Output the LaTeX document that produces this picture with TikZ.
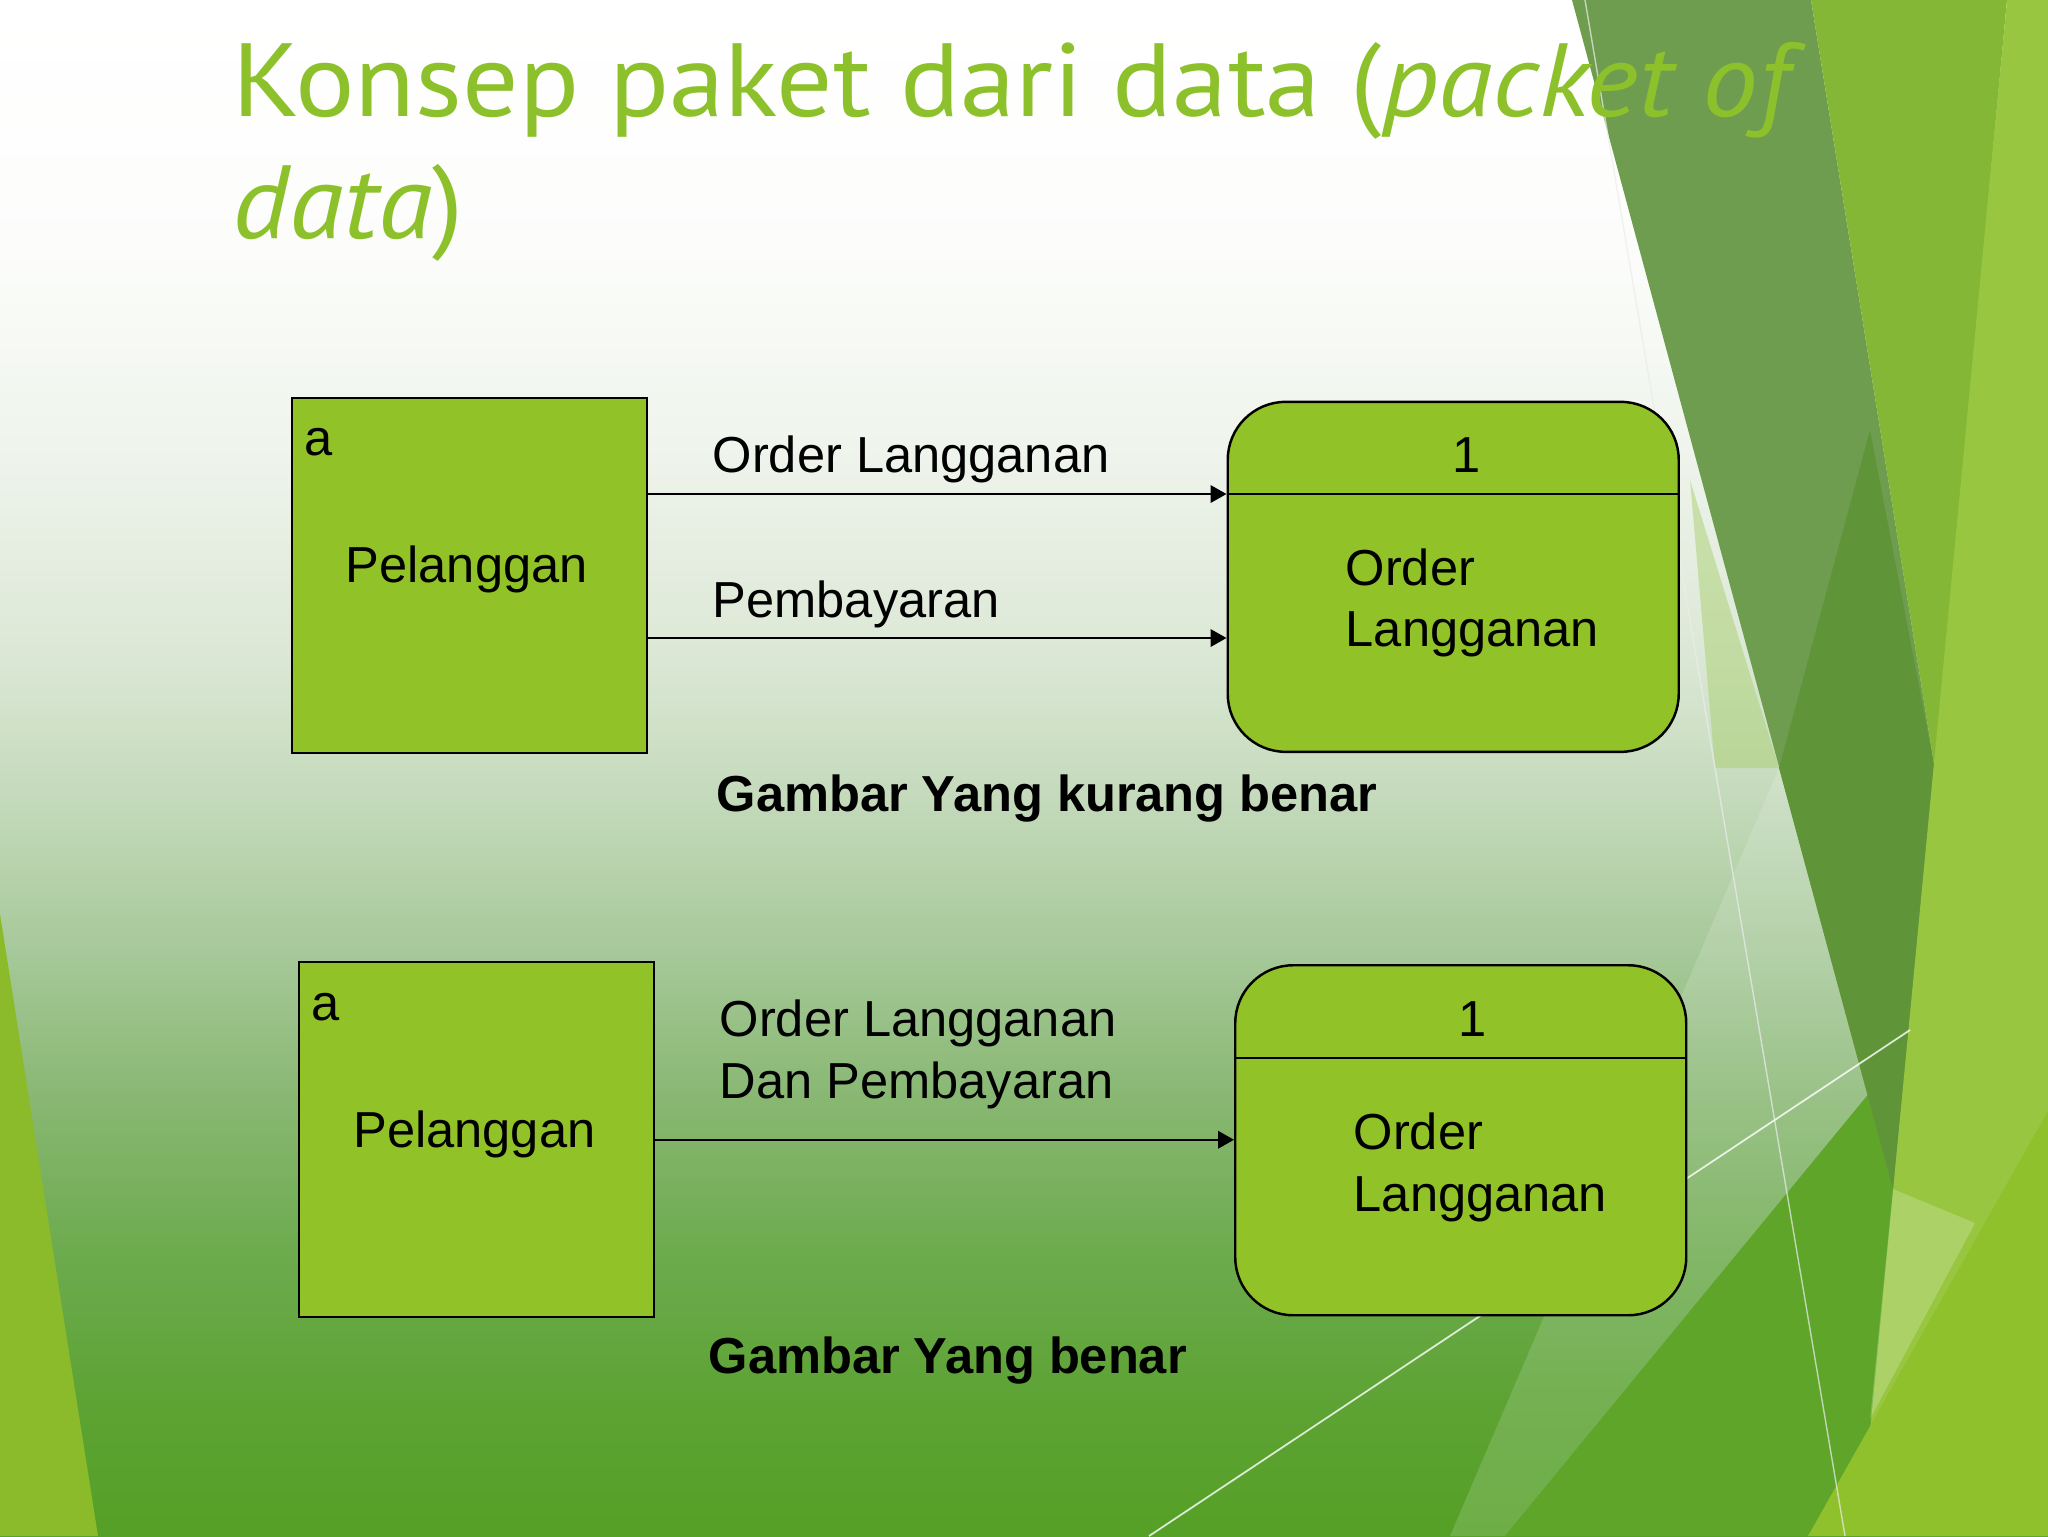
\documentclass[tikz,border=0pt]{standalone}
\usepackage{fontspec}
\setmainfont{Liberation Sans}
\newfontfamily\titlefont[FakeStretch=1.07]{PT Sans}
\usetikzlibrary{positioning,arrows.meta}
\definecolor{boxgreen}{RGB}{145,195,40}
\definecolor{titlegreen}{RGB}{141,193,43}
\definecolor{bandA}{RGB}{111,157,79}
\definecolor{bandB}{RGB}{95,148,56}
\definecolor{bandC}{RGB}{132,183,53}
\definecolor{stripe}{RGB}{152,198,64}
\definecolor{leafA}{RGB}{139,187,42}
\definecolor{leafB}{RGB}{94,165,42}
\definecolor{leafC}{RGB}{143,193,44}
\definecolor{leafD}{RGB}{170,208,112}
\definecolor{bg0}{RGB}{255,255,255}
\definecolor{bg1}{RGB}{252,253,251}
\definecolor{bg2}{RGB}{239,244,236}
\definecolor{bg3}{RGB}{220,232,214}
\definecolor{bg4}{RGB}{196,218,187}
\definecolor{bg5}{RGB}{167,201,154}
\definecolor{bg6}{RGB}{136,183,114}
\definecolor{bg7}{RGB}{109,171,78}
\definecolor{bg8}{RGB}{93,163,52}
\definecolor{bg9}{RGB}{85,160,38}
\pgfdeclareverticalshading{slidebg}{100bp}{color(0bp)=(bg9); color(25bp)=(bg9);
  color(29.4bp)=(bg8); color(34.3bp)=(bg7); color(39.2bp)=(bg6); color(44.1bp)=(bg5);
  color(49bp)=(bg4); color(53.8bp)=(bg3); color(60.4bp)=(bg2); color(66.9bp)=(bg1);
  color(75bp)=(bg0); color(100bp)=(bg0)}
\newcommand{\bodysize}{\fontsize{14.4}{17.5}\selectfont}

\begin{document}
\begin{tikzpicture}[x=0.1mm, y=-0.1mm,
    extbox/.style={draw, line width=0.7pt, fill=boxgreen, minimum width=35.5mm,
      minimum height=35.5mm, inner sep=0, anchor=north west},
    procbox/.style={extbox, rounded corners=5.8mm, minimum width=45.1mm, minimum height=35mm},
    txt/.style={inner sep=0, anchor=base west, align=left, font=\bodysize},
    caption/.style={txt, font=\bodysize\bfseries},
    flow/.style={-{Triangle[length=1.6mm, width=1.75mm]}, line width=0.6pt}]
\useasboundingbox (0,0) rectangle (2048,1536);
% slide background
\shade[shading=slidebg] (0,0) rectangle (2048,1536);
\fill[leafA] (0,914) -- (98,1536) -- (0,1536) -- cycle;
\fill[white, opacity=0.15] (1779,768) -- (1880,1080) -- (1505,1536) -- (1450,1536) -- cycle;
\fill[leafB] (1505,1536) -- (1880,1080) -- (1897,1189) -- (1860,1536) -- cycle;
\fill[leafD, opacity=0.5] (1690,480) -- (1779,768) -- (1715,768) -- cycle;
\fill[bandA] (1572,0) -- (1811,0) -- (1935,770) -- (1893,1189) -- cycle;
\fill[bandB] (1870,430) -- (1935,770) -- (1893,1189) -- (1779,768) -- cycle;
\fill[bandC] (1811,0) -- (2007,0) -- (1935,770) -- cycle;
\fill[stripe] (2007,0) -- (2048,0) -- (2048,1536) -- (1860,1536) -- cycle;
\fill[white, opacity=0.2] (1893,1189) -- (1975,1223) -- (1870,1419) -- cycle;
\fill[leafC] (1808,1536) -- (2048,1111) -- (2048,1536) -- cycle;
\draw[white!85!gray, opacity=0.7, line width=0.4pt] (1585,0) -- (1845,1536);
\draw[white, opacity=0.8, line width=0.5pt] (1149,1536) -- (1910,1030);

% title
\node[inner sep=0, anchor=base west, align=left, text=titlegreen,
  font=\titlefont\fontsize{29.6}{34.85}\selectfont] (title) at (232,238.5)
  {Konsep paket dari data (\textit{packet of}\\\textit{data})};

% Gambar yang kurang benar
\node[extbox] (cust1) at (290.6,397) {};
\node[procbox] (proc1) at (1226.5,400.6) {};
\coordinate (ord1in) at (1226.5,494);
\coordinate (pay1in) at (1226.5,638);
\draw[line width=0.6pt] (ord1in) -- (proc1.east |- ord1in);
\node[txt] (a1) at (304,455.4) {a};
\node[txt] (pel1) at (345,582) {Pelanggan};
\node[txt, anchor=base] (num1) at (1467,472.6) {1};
\node[txt] (ord1) at (1345,646.5) {Order\\Langganan};
\draw[flow] (cust1.east |- ord1in) -- (ord1in);
\draw[flow] (cust1.east |- pay1in) -- (pay1in);
\node[txt] (lblA) at (712,472.6) {Order Langganan};
\node[txt] (lblB) at (712,617) {Pembayaran};
\node[caption] (cap1) at (716,811) {Gambar Yang kurang benar};

% Gambar yang benar
\node[extbox] (cust2) at (298,961) {};
\node[procbox] (proc2) at (1234,964) {};
\coordinate (ord2in) at (1234,1058);
\draw[line width=0.6pt] (ord2in) -- (proc2.east |- ord2in);
\node[txt] (a2) at (311,1020.6) {a};
\node[txt] (pel2) at (352.7,1147) {Pelanggan};
\node[txt, anchor=base] (num2) at (1473,1036) {1};
\node[txt] (ord2) at (1353,1211) {Order\\Langganan};
\draw[flow] (cust2.east) -- (cust2.east -| proc2.west);
\node[txt] (lblC) at (719,1098.3) {Order Langganan\\Dan Pembayaran};
\node[caption] (cap2) at (708,1373) {Gambar Yang benar};
\end{tikzpicture}
\end{document}
